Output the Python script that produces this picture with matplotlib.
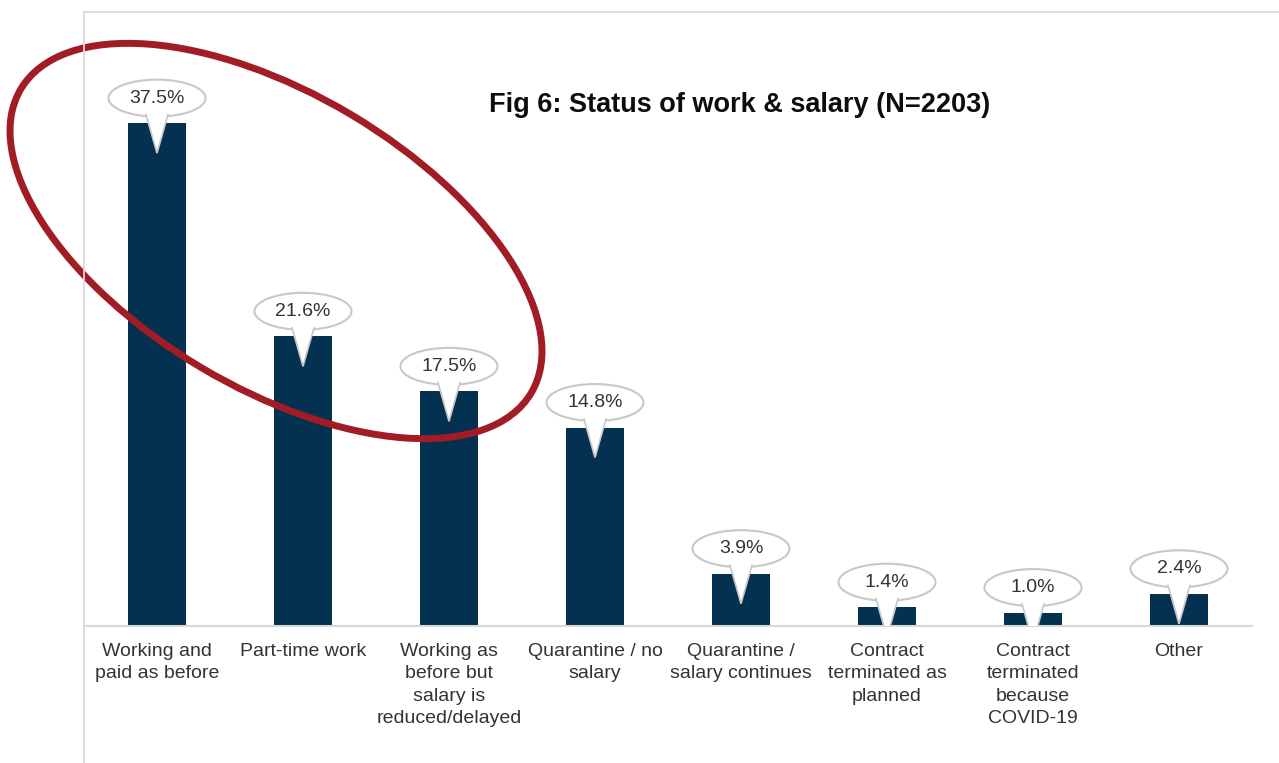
import matplotlib
matplotlib.use("Agg")
import matplotlib.pyplot as plt
from matplotlib.patches import Ellipse, Polygon
from matplotlib.lines import Line2D

plt.rcParams['font.family'] = ['Liberation Sans', 'DejaVu Sans']

categories = ["Working and\npaid as before", "Part-time work",
              "Working as\nbefore but\nsalary is\nreduced/delayed",
              "Quarantine / no\nsalary", "Quarantine /\nsalary continues",
              "Contract\nterminated as\nplanned",
              "Contract\nterminated\nbecause\nCOVID-19", "Other"]
values = [37.5, 21.6, 17.5, 14.8, 3.9, 1.4, 1.0, 2.4]
labels = ["37.5%", "21.6%", "17.5%", "14.8%", "3.9%", "1.4%", "1.0%", "2.4%"]
title = "Fig 6: Status of work & salary (N=2203)"

W, H = 1279, 763
fig = plt.figure(figsize=(W / 100, H / 100), dpi=100)
fig.patch.set_facecolor("white")

# frame lines of the chart area
grey = "#d9d9d9"
fig.add_artist(Line2D([84 / W, 84 / W], [0, 1 - 12 / H], transform=fig.transFigure, color=grey, lw=1.3))
fig.add_artist(Line2D([84 / W, 1], [1 - 12 / H, 1 - 12 / H], transform=fig.transFigure, color=grey, lw=1.3))

ax = fig.add_axes([84 / W, 1 - 626 / H, (1252 - 84) / W, (626 - 12) / H])
ax.set_xlim(-0.5, 7.5)
ax.set_ylim(0, 614 / 13.41)
ax.patch.set_alpha(0)
for s in ["top", "right", "left"]:
    ax.spines[s].set_visible(False)
ax.spines["bottom"].set_color(grey)
ax.spines["bottom"].set_linewidth(1.5)
ax.set_yticks([])

x = list(range(len(values)))
ax.bar(x, values, width=0.4, color="#04314f", zorder=2)
ax.set_xticks(x)
ax.set_xticklabels(categories, fontsize=14, color="#333333", linespacing=1.42)
ax.tick_params(axis="x", length=0, pad=12)

# callouts
ppx = 146.0          # pixels per x unit
ppy = 13.41          # pixels per y unit
ew, eh = 97 / ppx, 37 / ppy
for xi, v, lab in zip(x, values, labels):
    cy = v + 25 / ppy
    e = Ellipse((xi, cy), ew, eh, facecolor="white", edgecolor="#c8c8c8", lw=1.5, zorder=4)
    ax.add_patch(e)
    tip = v - 30 / ppy
    top = cy - eh / 2 + 2 / ppy
    half = 11 / ppx
    tail = Polygon([(xi - half, top + 1.5 / ppy), (xi, tip), (xi + half, top + 1.5 / ppy)],
                   closed=True, facecolor="white", edgecolor="none", zorder=5)
    ax.add_patch(tail)
    ax.plot([xi - half, xi, xi + half], [top, tip, top], color="#c8c8c8", lw=1.2, zorder=5,
            solid_joinstyle="miter")
    ax.text(xi, cy, lab, ha="center", va="center", fontsize=14, color="#333333", zorder=6)

fig.text(740 / W, 1 - 105 / H, title, ha="center", va="center", fontsize=19.5,
         fontweight="bold", color="#0d0d0d")

# red highlight ellipse (pixel overlay)
ov = fig.add_axes([0, 0, 1, 1])
ov.set_xlim(0, W)
ov.set_ylim(H, 0)
ov.axis("off")
ov.patch.set_alpha(0)
ov.add_patch(Ellipse((276, 241), 594, 294, angle=30.8, facecolor="none",
                     edgecolor="#a11c24", lw=5, zorder=10))

fig.savefig("out.png", dpi=100)
